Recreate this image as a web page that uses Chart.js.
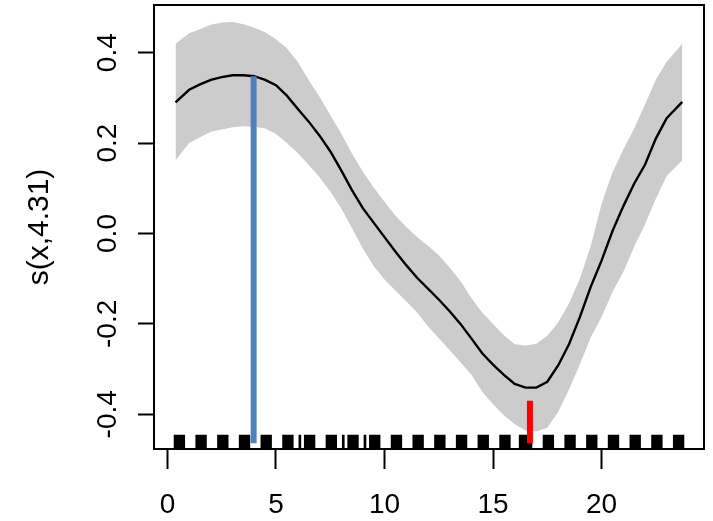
<!DOCTYPE html>
<html>
<head>
<meta charset="utf-8">
<script src="https://cdn.jsdelivr.net/npm/chart.js@4.4.1/dist/chart.umd.min.js"></script>
<style>
  html, body { margin: 0; padding: 0; background: #fff; }
</style>
</head>
<body>
<canvas id="smoothChart" width="713" height="521"></canvas>
<script>
// smooth fit s(x,4.31) with confidence band
const xGrid = [0.37, 1, 1.5, 2, 2.5, 3, 3.5, 4, 4.5, 5, 5.5, 6, 6.5, 7, 7.5, 8, 8.5, 9, 9.5, 10,
    10.5, 11, 11.5, 12, 12.5, 13, 13.5, 14, 14.5, 15, 15.5, 16, 16.5, 17, 17.5, 18, 18.5, 19, 19.5, 20,
    20.5, 21, 21.5, 22, 22.5, 23, 23.72];
const fitValues = [0.290, 0.318, 0.330, 0.340, 0.346, 0.350, 0.350, 0.348, 0.340, 0.328, 0.305, 0.276,
    0.248, 0.217, 0.182, 0.140, 0.096, 0.056, 0.024, -0.008, -0.040, -0.070, -0.098, -0.122, -0.146,
    -0.172, -0.200, -0.232, -0.265, -0.290, -0.313, -0.333, -0.341, -0.341, -0.328, -0.292, -0.245,
    -0.185, -0.118, -0.060, 0.005, 0.060, 0.110, 0.152, 0.210, 0.255, 0.291];
const upperBand = [0.420, 0.443, 0.452, 0.462, 0.467, 0.468, 0.463, 0.455, 0.445, 0.430, 0.410, 0.380,
    0.340, 0.303, 0.262, 0.222, 0.177, 0.137, 0.102, 0.070, 0.040, 0.015, -0.008, -0.027, -0.048,
    -0.075, -0.105, -0.143, -0.175, -0.200, -0.225, -0.245, -0.248, -0.244, -0.226, -0.197, -0.155,
    -0.100, -0.028, 0.065, 0.135, 0.185, 0.232, 0.285, 0.340, 0.380, 0.420];
const lowerBand = [0.162, 0.200, 0.213, 0.225, 0.230, 0.235, 0.237, 0.236, 0.232, 0.220, 0.200, 0.178,
    0.152, 0.125, 0.093, 0.056, 0.012, -0.033, -0.072, -0.102, -0.126, -0.150, -0.175, -0.205, -0.232,
    -0.258, -0.285, -0.312, -0.350, -0.378, -0.402, -0.422, -0.436, -0.438, -0.430, -0.395, -0.345,
    -0.290, -0.230, -0.185, -0.130, -0.085, -0.030, 0.020, 0.077, 0.127, 0.162];

// rug: dense clusters of observations, one per hour
const rugX = [0.55, 1.55, 2.55, 3.55, 4.55, 5.55, 6.55, 7.55, 8.55, 9.55, 10.55, 11.55,
    12.55, 13.55, 14.55, 15.55, 16.55, 17.55, 18.55, 19.55, 20.55, 21.55, 22.55, 23.55];
const rugThinX = [6.1, 8.1, 9.1, 16.25];

// max / min markers
const peakX = 3.97, peakY = 0.348;
const troughX = 16.7, troughY = -0.37;
const markerBase = -0.464;

const xTicks = [0, 5, 10, 15, 20];
const yTicks = [-0.4, -0.2, 0.0, 0.2, 0.4];
const xMin = -0.62, xMax = 24.72;
const yMin = -0.4768, yMax = 0.5055;
const rugTop = -0.446;

const pts = (xs, ys) => xs.map((x, i) => ({ x: x, y: ys[i] }));

Chart.defaults.font.family = "'Liberation Sans', Arial, Helvetica, sans-serif";
Chart.defaults.color = '#000';

const boxPlugin = {
    id: 'plotBox',
    afterDraw(chart) {
        const { ctx, chartArea: a } = chart;
        ctx.save();
        ctx.strokeStyle = '#000';
        ctx.lineWidth = 2;
        ctx.strokeRect(a.left, a.top, a.right - a.left, a.bottom - a.top);
        ctx.restore();
    }
};

const ctx = document.getElementById('smoothChart').getContext('2d');

new Chart(ctx, {
    type: 'line',
    data: {
        datasets: [
            {
                label: 'max',
                data: [{ x: peakX, y: markerBase }, { x: peakX, y: peakY }],
                borderColor: '#4F81BD',
                borderWidth: 6,
                borderCapStyle: 'butt',
                pointRadius: 0,
                fill: false,
                order: 0
            },
            {
                label: 'min',
                data: [{ x: troughX, y: markerBase }, { x: troughX, y: troughY }],
                borderColor: '#FF0000',
                borderWidth: 6,
                borderCapStyle: 'butt',
                pointRadius: 0,
                fill: false,
                order: 0
            },
            {
                label: 'fit',
                data: pts(xGrid, fitValues),
                borderColor: '#000',
                borderWidth: 2.4,
                pointRadius: 0,
                tension: 0,
                fill: false,
                order: 1
            },
            {
                type: 'bar',
                label: 'rug',
                data: rugX.map(x => ({ x: x, y: [yMin, rugTop] })),
                backgroundColor: '#000',
                borderWidth: 0,
                barThickness: 10.7,
                grouped: false,
                order: 2
            },
            {
                label: 'upper',
                data: pts(xGrid, upperBand),
                borderWidth: 0,
                borderColor: 'rgba(0,0,0,0)',
                backgroundColor: '#CCCCCC',
                pointRadius: 0,
                tension: 0,
                fill: '+1',
                order: 3
            },
            {
                label: 'lower',
                data: pts(xGrid, lowerBand),
                borderWidth: 0,
                borderColor: 'rgba(0,0,0,0)',
                pointRadius: 0,
                tension: 0,
                fill: false,
                order: 4
            },
            {
                type: 'bar',
                label: 'rug thin',
                data: rugThinX.map(x => ({ x: x, y: [yMin, rugTop] })),
                backgroundColor: '#000',
                borderWidth: 0,
                barThickness: 2,
                grouped: false,
                order: 2
            }
        ]
    },
    options: {
        responsive: false,
        animation: false,
        layout: {
            padding: { top: 5, right: 9, left: 0, bottom: 0 }
        },
        plugins: {
            legend: { display: false },
            tooltip: { enabled: false }
        },
        scales: {
            x: {
                type: 'linear',
                min: xMin,
                max: xMax,
                offset: false,
                afterBuildTicks: s => { s.ticks = xTicks.map(v => ({ value: v })); },
                afterFit: s => {
                    s.height = 72;
                    s.paddingLeft = 0;
                    s.paddingRight = 0;
                },
                ticks: {
                    autoSkip: false,
                    maxRotation: 0,
                    padding: 19,
                    font: { size: 28 },
                    color: '#000',
                    callback: v => String(v)
                },
                grid: {
                    display: true,
                    offset: false,
                    drawOnChartArea: false,
                    drawTicks: true,
                    tickLength: 20,
                    tickWidth: 2,
                    tickColor: '#000'
                },
                border: { display: true, color: '#000', width: 2 }
            },
            y: {
                type: 'linear',
                min: yMin,
                max: yMax,
                afterBuildTicks: s => { s.ticks = yTicks.map(v => ({ value: v })); },
                afterFit: s => {
                    s.width = 154;
                    s.paddingTop = 0;
                    s.paddingBottom = 0;
                },
                ticks: {
                    minRotation: 90,
                    maxRotation: 90,
                    crossAlign: 'center',
                    padding: 6,
                    font: { size: 28 },
                    color: '#000',
                    callback: v => v.toFixed(1)
                },
                grid: {
                    display: true,
                    offset: false,
                    drawOnChartArea: false,
                    drawTicks: true,
                    tickLength: 16,
                    tickWidth: 2,
                    tickColor: '#000'
                },
                border: { display: true, color: '#000', width: 2 },
                title: {
                    display: true,
                    text: 's(x,4.31)',
                    font: { size: 30 },
                    color: '#000',
                    padding: { top: 22, bottom: 0 }
                }
            }
        }
    },
    plugins: [boxPlugin]
});
</script>
</body>
</html>
